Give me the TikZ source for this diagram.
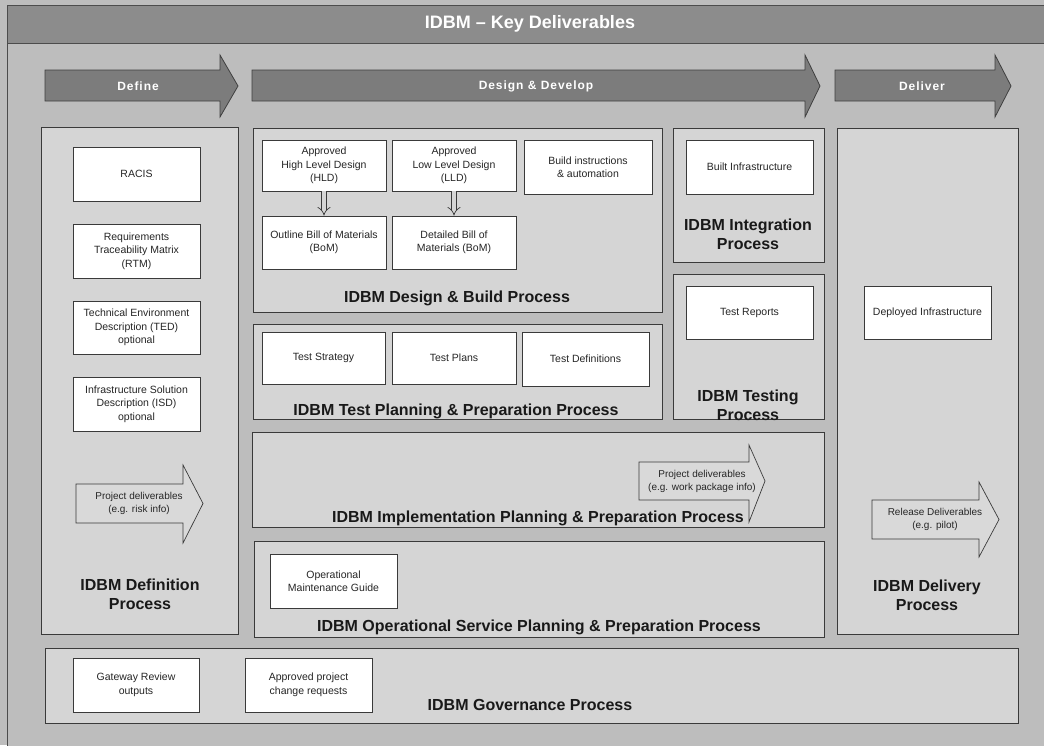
\documentclass[tikz,border=0pt]{standalone}
\usepackage{fontspec}
\setmainfont{Liberation Sans}
\newfontfamily\phasefont[LetterSpace=8]{Liberation Sans}
\usetikzlibrary{arrows.meta}
\definecolor{bggray}{HTML}{BDBDBD}
\definecolor{bargray}{HTML}{8C8C8C}
\definecolor{procgray}{HTML}{D5D5D5}
\definecolor{phasegray}{HTML}{7C7C7C}
\definecolor{inarrow}{HTML}{D9D9D9}
\definecolor{edge}{HTML}{3A3A3A}
\newcommand\bx[7]{\node[#1, minimum width={#5-#3}, minimum height={#6-#4}] (#2) at ({(#3+#5)/2},{(#4+#6)/2}) {#7};}
\begin{document}
\begin{tikzpicture}[x=1pt,y=-1pt,
  proc/.style={draw=edge, fill=procgray, line width=0.8pt, inner sep=0pt},
  item/.style={draw=edge, fill=white, line width=0.7pt, inner sep=1pt, align=center,
    font=\fontsize{10.5}{13.5}\selectfont, text=black!85},
  plabel/.style={align=center, font=\bfseries\fontsize{16}{19}\selectfont, text=black!90},
  phase/.style={draw=black!75, fill=phasegray, line width=0.8pt, line join=miter},
  phasetxt/.style={font=\phasefont\bfseries\fontsize{12}{14}\selectfont, text=white},
  inarr/.style={draw=edge, fill=inarrow, line width=0.7pt},
  intxt/.style={align=center, font=\fontsize{10}{13}\selectfont, text=black!85},
  dblarrow/.style={draw=edge, double=procgray, double distance=4pt, line width=0.7pt, -{Implies}}
]
\useasboundingbox (0,0) rectangle (1044,745);
% background and title bar
\fill[bggray] (0,0) rectangle (1044,745);
\draw[draw=black!70, fill=bggray, line width=0.8pt] (7,5) rectangle (1050,752);
\node[draw=black!70, fill=bargray, line width=0.8pt, minimum width=1043, minimum height=38, inner sep=0pt] (bar) at (528.5,24) {};
\node[font=\bfseries\fontsize{18}{22}\selectfont, text=white] (title) at (530,24) {IDBM – Key Deliverables};
% phase arrows
\draw[phase] (45,70) -- (220,70) -- (220,55) -- (238,86) -- (220,117) -- (220,101) -- (45,101) -- cycle;
\node[phasetxt] (define) at (138,86) {Define};
\draw[phase] (252,70) -- (805,70) -- (805,55) -- (820,86) -- (805,117) -- (805,101) -- (252,101) -- cycle;
\node[phasetxt] (design) at (536,86) {Design \& Develop};
\draw[phase] (835,70) -- (995,70) -- (995,55) -- (1011,86) -- (995,117) -- (995,101) -- (835,101) -- cycle;
\node[phasetxt] (deliver) at (922,86) {Deliver};
% process boxes
\bx{proc}{defbox}{41}{127}{238}{634}{}
\bx{proc}{dbbox}{253}{128}{662}{312}{}
\bx{proc}{tpbox}{253}{324}{662}{419}{}
\bx{proc}{intbox}{673}{128}{824}{262}{}
\bx{proc}{testbox}{673}{274}{824}{419}{}
\bx{proc}{delbox}{837}{128}{1018}{634}{}
\bx{proc}{implbox}{252}{432}{824}{527}{}
\bx{proc}{opbox}{254}{541}{824}{637}{}
\bx{proc}{govbox}{45}{648}{1018}{723}{}
% deliverable items
\bx{item}{racis}{73}{147}{200}{201}{RACIS}
\bx{item}{rtm}{73}{224}{200}{278}{Requirements\\Traceability Matrix\\(RTM)}
\bx{item}{ted}{73}{301}{200}{354}{Technical Environment\\Description (TED)\\optional}
\bx{item}{isd}{73}{377}{200}{431}{Infrastructure Solution\\Description (ISD)\\optional}
\bx{item}{hld}{262}{140}{386}{191}{Approved\\High Level Design\\(HLD)}
\bx{item}{lld}{392}{140}{516}{191}{Approved\\Low Level Design\\(LLD)}
\bx{item}{build}{524}{140}{652}{194}{Build instructions\\\& automation}
\bx{item}{obom}{262}{216}{386}{269}{Outline Bill of Materials\\(BoM)}
\bx{item}{dbom}{392}{216}{516}{269}{Detailed Bill of\\Materials (BoM)}
\bx{item}{tstrat}{262}{332}{385}{384}{Test Strategy}
\bx{item}{tplans}{392}{332}{516}{384}{Test Plans}
\bx{item}{tdefs}{522}{332}{649}{386}{Test Definitions}
\bx{item}{built}{686}{140}{813}{194}{Built Infrastructure}
\bx{item}{trep}{686}{286}{813}{339}{Test Reports}
\bx{item}{deploy}{864}{286}{991}{339}{Deployed Infrastructure}
\bx{item}{omg}{270}{554}{397}{608}{Operational\\Maintenance Guide}
\bx{item}{gate}{73}{658}{199}{712}{Gateway Review\\outputs}
\bx{item}{apcr}{245}{658}{372}{712}{Approved project\\change requests}
% double arrows
\draw[dblarrow] (hld.south) -- (obom.north);
\draw[dblarrow] (lld.south) -- (dbom.north);
% inner arrows
\draw[inarr] (76,484) -- (183,484) -- (183,465) -- (203,503.5) -- (183,543) -- (183,523) -- (76,523) -- cycle;
\node[intxt] (pdrisk) at (139,503) {Project deliverables\\(e.g. risk info)};
\draw[inarr] (639,462) -- (749,462) -- (749,445) -- (765,481) -- (749,522) -- (749,500) -- (639,500) -- cycle;
\node[intxt] (pdwork) at (702,481) {Project deliverables\\(e.g. work package info)};
\draw[inarr] (872,500) -- (979,500) -- (979,482) -- (999,519.5) -- (979,557) -- (979,539) -- (872,539) -- cycle;
\node[intxt] (reldel) at (935,519.5) {Release Deliverables\\(e.g. pilot)};
% process labels
\node[plabel] (deflbl) at (140,594) {IDBM Definition\\Process};
\node[plabel] (dblbl) at (457,298) {IDBM Design \& Build Process};
\node[plabel] (tplbl) at (456,411) {IDBM Test Planning \& Preparation Process};
\node[plabel] (intlbl) at (748,234) {IDBM Integration\\Process};
\node[plabel] (testlbl) at (748,405) {IDBM Testing\\Process};
\node[plabel] (dellbl) at (927,595) {IDBM Delivery\\Process};
\node[plabel] (impllbl) at (538,518) {IDBM Implementation Planning \& Preparation Process};
\node[plabel] (oplbl) at (539,627) {IDBM Operational Service Planning \& Preparation Process};
\node[plabel] (govlbl) at (530,705) {IDBM Governance Process};
\end{tikzpicture}
\end{document}
